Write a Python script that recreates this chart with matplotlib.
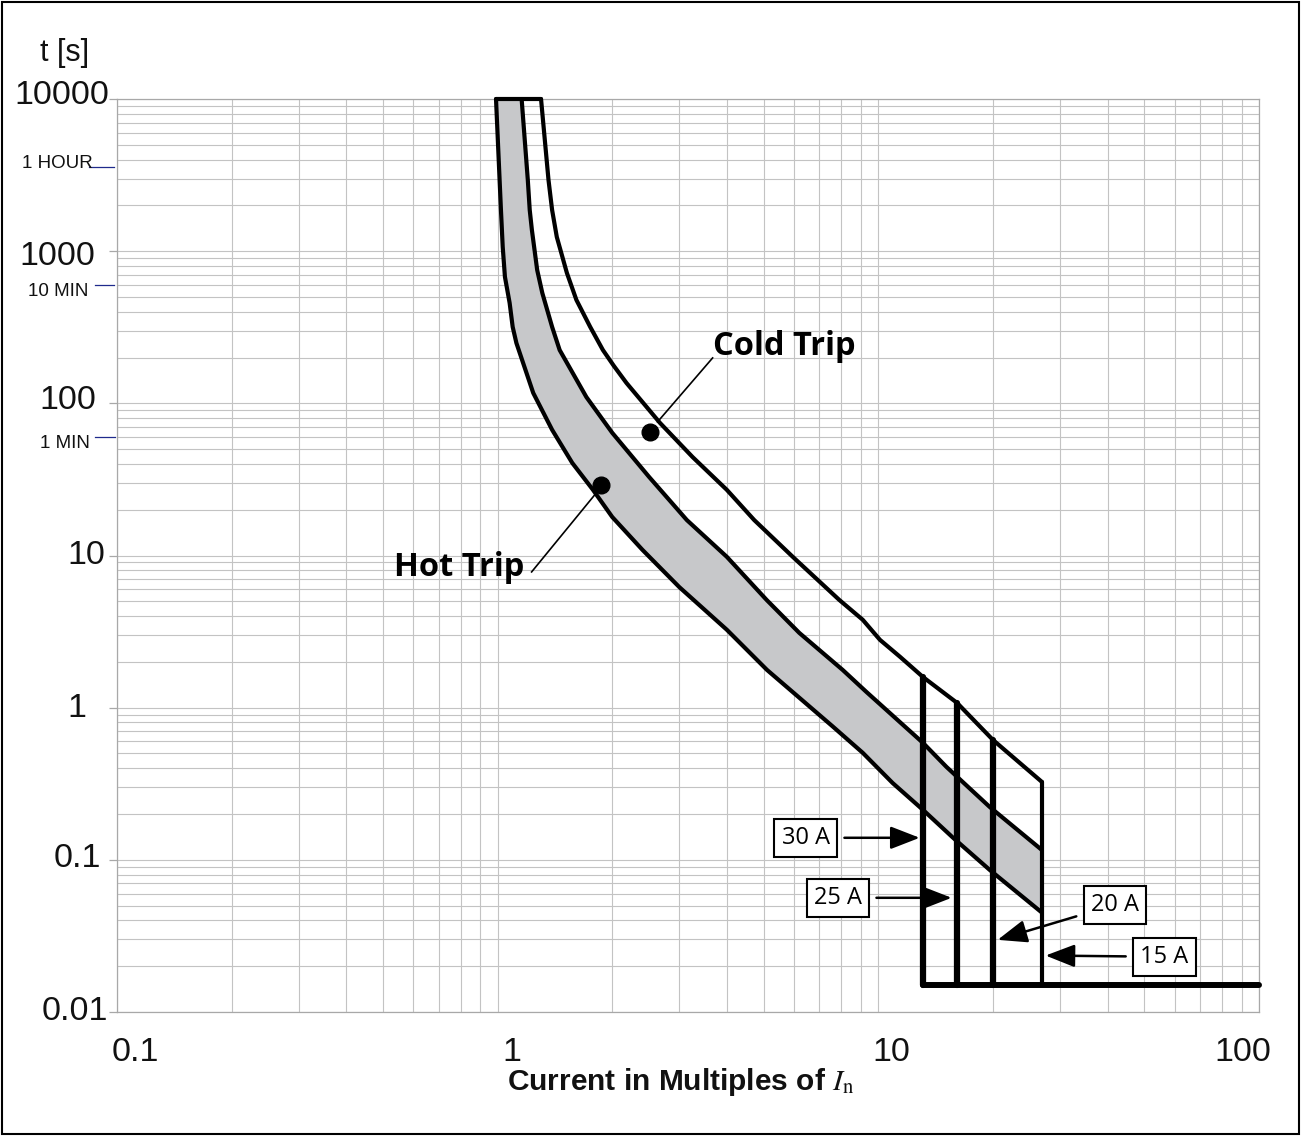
import matplotlib
matplotlib.use("Agg")
import matplotlib.pyplot as plt
import numpy as np
from matplotlib.transforms import ScaledTranslation
from matplotlib.patches import Rectangle
from matplotlib.ticker import LogLocator, NullFormatter, FixedLocator

plt.rcParams['mathtext.fontset'] = 'stix'
plt.rcParams['font.family'] = ['Liberation Sans', 'DejaVu Sans']

# ---------------- data ----------------
# lower boundary of hot-trip band (curve A)
curve_a_x = [0.99, 1.02, 1.031, 1.045, 1.075, 1.095, 1.12, 1.24, 1.39, 1.57, 1.78, 2.0, 2.4,
             3.0, 4.0, 5.1, 7.6, 9.1, 10.9, 13.1, 15.7, 19.6, 26.9]
curve_a_t = [10000, 1865, 1066, 677, 457, 318, 249, 117, 67, 40.6, 27, 17.9, 10.9,
             6.2, 3.25, 1.77, 0.75, 0.505, 0.32, 0.213, 0.14, 0.086, 0.045]
# upper boundary of hot-trip band (curve B)
curve_b_x = [1.156, 1.2, 1.214, 1.23, 1.27, 1.31, 1.39, 1.455, 1.71, 2.0, 2.5, 3.14, 4.0,
             5.09, 6.2, 8.06, 9.3, 13.1, 15.1, 19.6, 26.9]
curve_b_t = [10000, 2936, 1865, 1378, 752, 531, 318, 224, 110, 64, 32.8, 17.1, 9.8,
             5.1, 3.1, 1.77, 1.27, 0.587, 0.408, 0.223, 0.116]
# cold-trip curve (curve C)
curve_c_x = [1.3, 1.36, 1.39, 1.43, 1.52, 1.61, 1.75, 1.89, 2.02, 2.18, 2.67, 3.25, 4.0,
             4.72, 5.96, 7.9, 9.1, 10.1, 11.4, 13.1, 16.1, 20.0, 26.9]
curve_c_t = [10000, 2936, 1865, 1240, 719, 478, 318, 224, 176, 136, 74.3, 44.4, 27,
             17.1, 9.8, 5.1, 3.78, 2.79, 2.16, 1.59, 1.075, 0.614, 0.325]

# instantaneous (magnetic) trip lines
ratings = ["30 A", "25 A", "20 A", "15 A"]
magnetic_x = [13.1, 16.1, 20.0, 26.9]
magnetic_top_t = [1.59, 1.075, 0.614, 0.325]
instant_t = 0.0151
x_end = 100

hot_dot = (1.865, 29.1)
cold_dot = (2.507, 64.9)

x_ticks = [0.1, 1, 10, 100]
x_tick_labels = ["0.1", "1", "10", "100"]
y_ticks = [0.01, 0.1, 1, 10, 100, 1000, 10000]
y_tick_labels = ["0.01", "0.1", "1", "10", "100", "1000", "10000"]
time_marks = [3600, 600, 60]
time_mark_labels = ["1 HOUR", "10 MIN", "1 MIN"]

# ---------------- figure ----------------
W, H = 1301, 1136
fig = plt.figure(figsize=(W / 100, H / 100), dpi=100)
ax = fig.add_axes([117 / W, (H - 1012) / H, 1142 / W, 913 / H])
ax.set_xscale('log')
ax.set_yscale('log')
ax.set_xlim(0.1, 100)
ax.set_ylim(0.01, 10000)

ax.xaxis.set_major_locator(FixedLocator(x_ticks))
ax.yaxis.set_major_locator(FixedLocator(y_ticks))
ax.xaxis.set_minor_locator(LogLocator(base=10, subs=np.arange(2, 10), numticks=100))
ax.yaxis.set_minor_locator(LogLocator(base=10, subs=np.arange(2, 10), numticks=100))
ax.xaxis.set_minor_formatter(NullFormatter())
ax.yaxis.set_minor_formatter(NullFormatter())
ax.set_xticklabels(x_tick_labels)
ax.set_yticklabels(y_tick_labels)

ax.grid(True, which='both', color='#c3c3c3', lw=0.8)
ax.set_axisbelow(True)
for s in ax.spines.values():
    s.set_color('#a8a8a8')
    s.set_linewidth(0.9)

ax.tick_params(axis='x', which='both', length=0, labelsize=24.5, pad=18, labelcolor='#111111')
ax.tick_params(axis='y', which='major', length=6, color='#a8a8a8', width=0.9,
               labelsize=24.5, pad=1, labelcolor='#111111')
ax.tick_params(axis='y', which='minor', length=0)

# small per-label offsets (pixels) to follow the reference placement
x_offsets = [18, 14, 13, -16]
for lab, dx in zip(ax.get_xticklabels(), x_offsets):
    lab.set_transform(lab.get_transform() + ScaledTranslation(dx / 100, 0, fig.dpi_scale_trans))
y_dx = [1, -6, -21, -2, -11, -12, 2]
y_dy = [4, 5, 3, 4, 6, -2, 7]
for lab, dx, dy in zip(ax.get_yticklabels(), y_dx, y_dy):
    lab.set_transform(lab.get_transform() + ScaledTranslation(dx / 100, dy / 100, fig.dpi_scale_trans))

# gray hot-trip band
poly_x = list(curve_a_x) + list(curve_b_x[::-1])
poly_t = list(curve_a_t) + list(curve_b_t[::-1])
ax.fill(poly_x, poly_t, color='#c7c8ca', lw=0, zorder=2)

lw_curve = 3.0
common = dict(color='black', solid_joinstyle='round', solid_capstyle='round', clip_on=False, zorder=4)
ax.plot(curve_a_x, curve_a_t, lw=lw_curve, **common)
ax.plot(curve_b_x, curve_b_t, lw=lw_curve, **common)
ax.plot(curve_c_x, curve_c_t, lw=lw_curve, **common)
ax.plot([curve_a_x[0], curve_c_x[0]], [curve_a_t[0], curve_c_t[0]], lw=lw_curve, **common)

# magnetic trip vertical lines
for i, (mx, mt) in enumerate(zip(magnetic_x, magnetic_top_t)):
    lw = 4.5 if i < 3 else 3.0
    ax.plot([mx, mx], [mt, instant_t], lw=lw, **common)
ax.plot([magnetic_x[0], x_end], [instant_t, instant_t], lw=4.3, **common)

# dots and labels
ax.plot(*hot_dot, 'o', color='black', ms=12, zorder=5)
ax.plot(*cold_dot, 'o', color='black', ms=12, zorder=5)
ax.plot([2.63, 3.67], [75.5, 198.8], color='black', lw=1.2, zorder=5)
ax.plot([1.228, 1.798], [7.8, 25.0], color='black', lw=1.2, zorder=5)
ax.text(3.67, 235, "Cold Trip", fontsize=23.5, fontweight='bold', family='Open Sans',
        ha='left', va='center', zorder=6)
ax.text(1.177, 8.3, "Hot Trip", fontsize=23.5, fontweight='bold', family='Open Sans',
        ha='right', va='center', zorder=6)

# rating boxes with arrows
box_pos = [(6.44, 0.1396), (7.82, 0.0563), (41.8, 0.0506), (56.5, 0.02306)]
arrow_head = [(12.84, 0.1396), (15.58, 0.0563), (20.58, 0.0298), (27.5, 0.0235)]
for lab, bp, ah in zip(ratings, box_pos, arrow_head):
    ax.annotate(lab, xy=ah, xytext=bp, fontsize=17, family='Open Sans',
                ha='center', va='center', zorder=7,
                bbox=dict(boxstyle='square,pad=0.3', fc='white', ec='black', lw=1.5),
                arrowprops=dict(arrowstyle='-|>,head_length=0.9,head_width=0.35',
                                color='black', lw=1.8, shrinkA=5, shrinkB=0,
                                mutation_scale=20))

# time marks on y axis
ytrans = ax.get_yaxis_transform()
line_spans = [(-28, -3), (-22, -3), (-22, -2)]
text_dx = [-24, -29, -27]
text_dy = [3, -7, -6]
for tm, tl, (a, b), tdx, tdy in zip(time_marks, time_mark_labels, line_spans, text_dx, text_dy):
    ax.plot([a / 1142, b / 1142], [tm, tm], transform=ytrans, color='#1f2a8c', lw=0.9, clip_on=False)
    ax.annotate(tl, xy=(0, tm), xycoords=ytrans, xytext=(tdx, tdy), textcoords='offset pixels',
                ha='right', va='center', fontsize=13.5, color='#111111')

# axis labels
fig.text(65 / W, 1 - 53 / H, "t [s]", fontsize=22, ha='center', va='center', color='#111111')
fig.text(507 / W, 1 - 1082 / H, r"Current in Multiples of $\mathit{I}_{\mathrm{n}}$", fontsize=21.5,
         fontweight='bold', ha='left', va='center', color='#111111')

# figure border
fig.patches.append(Rectangle((0.0015, 0.0015), 0.997, 0.997, transform=fig.transFigure,
                             fill=False, ec='black', lw=1.5))

fig.savefig("out.png", dpi=100)
